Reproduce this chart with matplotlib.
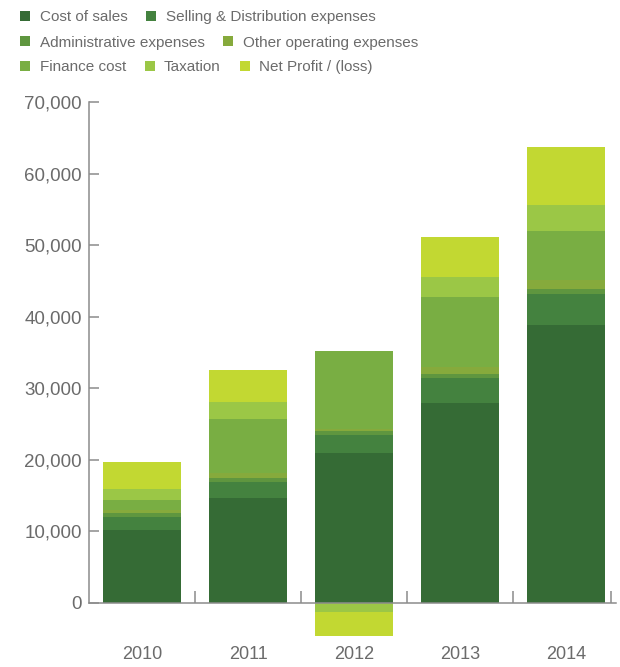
import numpy as np
import matplotlib
matplotlib.use("Agg")
import matplotlib.pyplot as plt
from matplotlib.lines import Line2D

years = ["2010", "2011", "2012", "2013", "2014"]
series_names = ["Cost of sales", "Selling & Distribution expenses", "Administrative expenses",
                "Other operating expenses", "Finance cost", "Taxation", "Net Profit / (loss)"]
cost_of_sales = [10200, 14670, 21000, 27990, 38840]
selling_distribution = [1820, 2240, 2520, 3490, 4330]
administrative = [560, 560, 560, 520, 700]
other_operating = [420, 650, 240, 980, 1260]
finance_cost = [1400, 7630, 10900, 9830, 6890]
taxation = [1540, 2340, -1210, 2750, 3590]
net_profit = [3770, 4470, -3350, 5590, 8150]
y_ticks = [0, 10000, 20000, 30000, 40000, 50000, 60000, 70000]

colors = ["#356b35", "#44823f", "#5f963f", "#86aa3c", "#79ae43", "#9bc746", "#c2d832"]
series = [cost_of_sales, selling_distribution, administrative, other_operating,
          finance_cost, taxation, net_profit]

plt.rcParams['font.family'] = ['Liberation Sans', 'DejaVu Sans']
text_color = "#6b6b6b"
axis_color = "#8c8c8c"

fig = plt.figure(figsize=(6.2, 6.67), dpi=100)
ax = fig.add_axes([89 / 620, 0.0423, 530 / 620, 0.8048])

x = np.arange(len(years))
pos_bottom = np.zeros(len(years))
neg_bottom = np.zeros(len(years))
for vals, col, name in zip(series, colors, series_names):
    v = np.array(vals, dtype=float)
    bottom = np.where(v >= 0, pos_bottom, neg_bottom)
    ax.bar(x, v, width=0.73, bottom=bottom, color=col, linewidth=0, label=name)
    pos_bottom = pos_bottom + np.where(v >= 0, v, 0)
    neg_bottom = neg_bottom + np.where(v < 0, v, 0)

ax.set_xlim(-0.5, 4.5)
ax.set_ylim(-5000, 70000)

for s in ["top", "right"]:
    ax.spines[s].set_visible(False)
ax.spines["left"].set_bounds(0, 70000)
ax.spines["bottom"].set_position(("data", 0))
ax.spines["bottom"].set_bounds(-0.5, 4.47)
for s in ["left", "bottom"]:
    ax.spines[s].set_color(axis_color)
    ax.spines[s].set_linewidth(1.1)

ax.set_yticks(y_ticks)
ax.set_yticklabels([f"{t:,}" for t in y_ticks])
ax.tick_params(axis="y", direction="in", length=7.2, width=1.1, color=axis_color,
               labelsize=13.5, labelcolor=text_color, pad=5)

ax.set_xticks(x)
ax.set_xticklabels(years)
ax.tick_params(axis="x", which="major", length=0, labelsize=13, labelcolor=text_color, pad=31)
ax.set_xticks([0.5, 1.5, 2.5, 3.5, 4.42], minor=True)
ax.tick_params(axis="x", which="minor", direction="in", length=8.6, width=1.1, color=axis_color)

handles = [Line2D([], [], linestyle="none", marker="s", markersize=7.2,
                  markerfacecolor=c, markeredgewidth=0) for c in colors]
rows = [(0, 2, 17), (2, 4, 42.5), (4, 7, 67)]
for a, b, yc in rows:
    fig.legend(handles[a:b], series_names[a:b], ncol=b - a, loc="center left",
               bbox_to_anchor=(20 / 620, 1 - yc / 667), frameon=False, borderpad=0,
               borderaxespad=0, handlelength=0.7, handletextpad=0.58, columnspacing=1.22,
               prop={"size": 11}, labelcolor=text_color)

fig.savefig("out.png", dpi=100)
